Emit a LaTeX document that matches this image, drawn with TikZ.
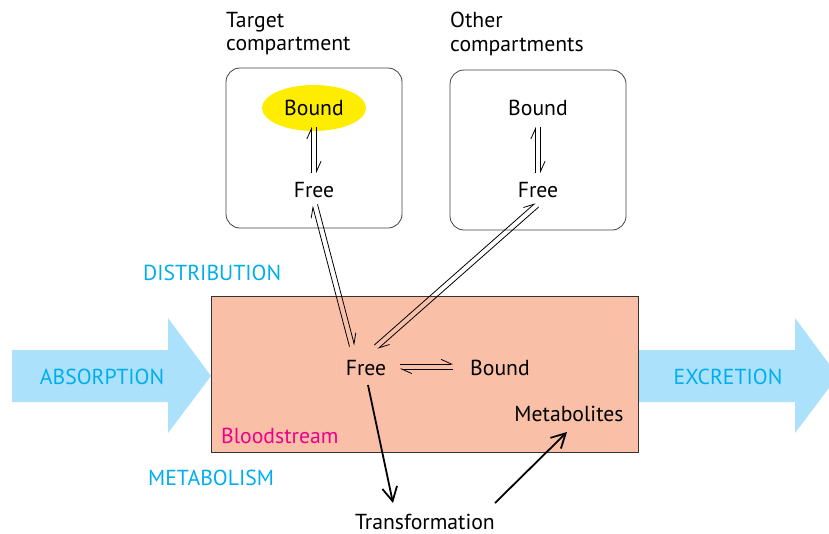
\documentclass[tikz,border=0pt]{standalone}
\usepackage{fontspec}
\setmainfont{PT Sans}
\usepackage{xcolor}
\definecolor{pkcyan}{RGB}{0,174,239}
\definecolor{pkarrow}{RGB}{171,225,250}
\definecolor{pkblood}{RGB}{249,192,167}
\definecolor{pkmagenta}{RGB}{236,0,140}
\definecolor{pkyellow}{RGB}{255,237,0}
\usepackage{tikz}
\usetikzlibrary{arrows.meta, positioning, shapes.geometric, calc}

% two half-arrows for an equilibrium between two points
\newcommand{\eqarrows}[2]{%
  \draw[harp] ($(#1)!2.6pt!90:(#2)$) -- ($(#2)!2.6pt!-90:(#1)$);
  \draw[harp] ($(#2)!2.6pt!90:(#1)$) -- ($(#1)!2.6pt!-90:(#2)$);
}

\begin{document}
\begin{tikzpicture}[
  x=1pt, y=-1pt,
  every node/.style={font=\fontsize{21.7}{23.5}\selectfont},
  lbl/.style={text height=15pt, text depth=0pt, inner sep=0pt},
  proc/.style={lbl, text=pkcyan},
  compbox/.style={draw=black!75, line width=0.8pt, rounded corners=14pt, minimum width=176pt, minimum height=160pt},
  harp/.style={line width=0.8pt, -{Straight Barb[left, length=10pt, width=9pt]}},
  flow/.style={line width=1.8pt, -{Straight Barb[length=14pt, width=15pt]}}
]
  \clip (0,0) rectangle (829,533);

  % absorption and excretion
  \fill[pkarrow] (12,350) -- (168,350) -- (168,318) -- (211,376) -- (168,433) -- (168,402) -- (12,402) -- cycle;
  \fill[pkarrow] (638,350) -- (795,350) -- (795,318) -- (838,376) -- (795,433) -- (795,402) -- (638,402) -- cycle;

  \node[draw=black!80, line width=0.8pt, fill=pkblood, minimum width=427pt, minimum height=156pt, inner sep=0pt] (blood) at (424.5,374) {};
  \node[compbox] (tbox) at (314,148) {};
  \node[compbox] (obox) at (538,150) {};

  \node[anchor=north west, align=left, inner sep=0pt] (tlabel) at (226,12) {Target\\compartment};
  \node[anchor=north west, align=left, inner sep=0pt] (olabel) at (450,12) {Other\\compartments};

  \node[lbl, ellipse, fill=pkyellow, minimum width=104pt, minimum height=46pt] (tbound) at (314,108) {Bound};
  \node[lbl] (tfree) at (314,190) {Free};
  \node[lbl] (obound) at (538,108) {Bound};
  \node[lbl] (ofree) at (538,190) {Free};

  \node[lbl] (free) at (366,368) {Free};
  \node[lbl] (bound) at (500,368) {Bound};
  \node[lbl] (metab) at (569,414) {Metabolites};
  \node[lbl, anchor=west, text=pkmagenta] (bloodlbl) at (221,436) {Bloodstream};
  \node[lbl] (trans) at (425,522) {Transformation};

  \node[proc, anchor=west] (distr) at (143,273) {DISTRIBUTION};
  \node[proc, anchor=west] (metabol) at (148,478) {METABOLISM};
  \node[proc] (absorb) at (102,377) {ABSORPTION};
  \node[proc] (excr) at (728,377) {EXCRETION};

  \coordinate (t1) at ($(tbound)+(0,19)$);
  \coordinate (t2) at ($(tfree)+(0,-17)$);
  \coordinate (o1) at ($(obound)+(0,19)$);
  \coordinate (o2) at ($(ofree)+(0,-17)$);
  \coordinate (h1) at ($(free)+(34,-1.5)$);
  \coordinate (h2) at ($(bound)+(-47,-1.5)$);
  \coordinate (d1) at ($(tfree)+(1,15)$);
  \coordinate (d2) at ($(free)+(-14,-22)$);
  \coordinate (e1) at ($(ofree)+(-1,15)$);
  \coordinate (e2) at ($(free)+(10,-21)$);

  \eqarrows{t1}{t2}
  \eqarrows{o1}{o2}
  \eqarrows{h1}{h2}
  \eqarrows{d1}{d2}
  \eqarrows{e1}{e2}

  \draw[flow] ($(free)+(2,17)$) -- ($(trans)+(-32,-19)$);
  \draw[flow] ($(trans)+(70,-19)$) -- ($(metab)+(-2,18)$);
\end{tikzpicture}
\end{document}
